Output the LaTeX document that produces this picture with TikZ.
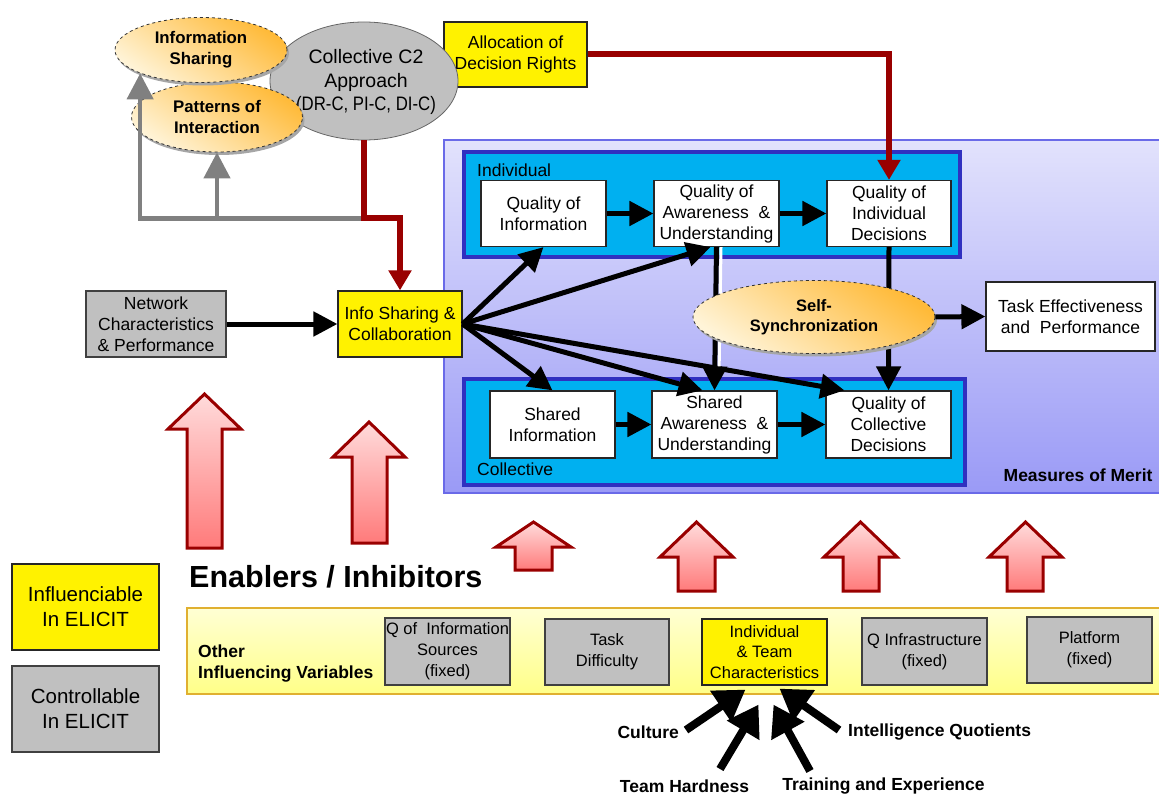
\documentclass[tikz,border=0pt]{standalone}
\usepackage{fontspec}
\setmainfont{Liberation Sans}
\usetikzlibrary{shapes.geometric,arrows.meta,shadows}

\definecolor{darkred}{HTML}{990000}
\definecolor{cyanfill}{HTML}{00B0F0}
\definecolor{navyedge}{HTML}{3030C0}
\definecolor{panelTop}{HTML}{E2E2FC}
\definecolor{panelBot}{HTML}{9A9AF6}
\definecolor{panelEdge}{HTML}{6A6AE8}
\definecolor{boxgray}{HTML}{C0C0C0}
\definecolor{ovalDark}{HTML}{FFBA38}
\definecolor{ovalLight}{HTML}{FFF4D8}
\definecolor{bandTop}{HTML}{FFFFD4}
\definecolor{bandBot}{HTML}{FFFF88}
\definecolor{bandEdge}{HTML}{E0B030}
\definecolor{linegray}{HTML}{808080}

% block arrow pointing up: left, right, shaft left, shaft right, tip y, shoulder y, bottom y
\newcommand\liftarrow[7]{%
  \path[liftstyle] ({(#1+#2)/2},#5) -- (#2,#6) -- (#4,#6) -- (#4,#7) -- (#3,#7) -- (#3,#6) -- (#1,#6) -- cycle;}

\begin{document}
\begin{tikzpicture}[x=1pt,y=-1pt,
  txt/.style={font=\fontsize{17.5}{21}\selectfont, align=center},
  wbox/.style={txt, draw=black!85, line width=1.2pt, fill=white, inner sep=0pt},
  gbox/.style={wbox, fill=boxgray, draw=black!75},
  ybox/.style={wbox, fill=yellow},
  bluebox/.style={draw=navyedge, line width=3.5pt, fill=cyanfill, inner sep=0pt},
  oval/.style={ellipse, draw=black!80, dashed, line width=0.8pt, inner sep=0pt,
    top color=ovalDark, bottom color=ovalLight, shading angle=-35,
    drop shadow={shadow xshift=2pt, shadow yshift=-3pt, fill=black!35, opacity=1},
    font=\bfseries\fontsize{16.8}{21}\selectfont, align=center},
  blk/.style={line width=5pt, -{Triangle[length=24pt,width=24pt]}},
  redarrow/.style={draw=darkred, line width=6pt, line join=miter, -{Triangle[length=20pt,width=22pt]}},
  grayarrow/.style={draw=linegray, line width=4.5pt, line join=miter, -{Triangle[length=26pt,width=26pt]}},
  fatarrow/.style={line width=8pt, -{Triangle[length=30pt,width=36pt]}},
  liftstyle/.style={draw=darkred, line width=3pt, line join=miter, top color=red!14, bottom color=red!52},
  lbl/.style={font=\bfseries\fontsize{17.5}{21}\selectfont},
]
\useasboundingbox (0,0) rectangle (1159,794);

% ---------- Measures of Merit panel ----------
\path[draw=panelEdge, line width=1.2pt, top color=panelTop, bottom color=panelBot] (444,140) rectangle (1162,493);
\node[lbl, anchor=east] (mom) at (1156,475) {Measures of Merit};

\node[bluebox, minimum width=496pt, minimum height=105pt] (indiv) at (712,204.5) {};
\node[bluebox, minimum width=501pt, minimum height=106pt] (coll) at (714.5,432) {};
\node[txt, anchor=west, inner sep=0pt] (indivlbl) at (477,170) {Individual};
\node[txt, anchor=west, inner sep=0pt] (colllbl) at (477,469) {Collective};

\node[wbox, minimum width=125pt, minimum height=66pt] (qoi) at (543.5,213.5) {Quality of\\Information};
\node[wbox, minimum width=125pt, minimum height=66pt] (qau) at (716.5,213.5) {Quality of\\Awareness~~\&\\Understanding};
\node[wbox, minimum width=124pt, minimum height=66pt] (qid) at (889,213.5) {Quality of\\Individual\\Decisions};
\node[wbox, minimum width=125pt, minimum height=67pt] (si) at (552.5,424.5) {Shared\\Information};
\node[wbox, minimum width=125pt, minimum height=67pt] (sau) at (714.5,424.5) {Shared\\Awareness~~\&\\Understanding};
\node[wbox, minimum width=125pt, minimum height=67pt] (qcd) at (888.5,424.5) {Quality of\\Collective\\Decisions};
\node[wbox, minimum width=169pt, minimum height=69pt] (task) at (1070.5,316.5) {Task Effectiveness\\and~~Performance};

% ---------- Left column ----------
\node[gbox, minimum width=140pt, minimum height=66pt] (net) at (156,324) {Network\\Characteristics\\\& Performance};
\node[ybox, minimum width=124pt, minimum height=66pt] (isc) at (400,324) {Info Sharing \&\\Collaboration};
\node[ybox, minimum width=143pt, minimum height=65pt] (alloc) at (515.5,54.5) {Allocation of\\Decision Rights};

% C2 approach and its two components
\node[ellipse, draw=black!60, line width=0.8pt, fill=boxgray, minimum width=188pt, minimum height=118pt, inner sep=0pt] (c2) at (364,81) {};
\node[font=\fontsize{19.5}{23.5}\selectfont, align=center, inner sep=0pt] (c2text) at (366,82) {Collective C2\\Approach\\\scalebox{0.86}[1]{(DR-C, PI-C, DI-C)}};
\node[oval, minimum width=171pt, minimum height=70pt] (pat) at (217,117) {Patterns of\\Interaction};
\node[oval, minimum width=172pt, minimum height=65pt] (infosh) at (201,50) {Information\\Sharing};

% ---------- Influence lines ----------
\coordinate (split) at ([yshift=-78pt]c2.south);
\draw[grayarrow] (split) -| (infosh.201);
\draw[grayarrow] (split -| pat.south) -- (pat.south);
\draw[redarrow] (c2.south) -- (split) -| (isc.north);
\draw[redarrow] (alloc.east) -| (qid.north);

\draw[blk] (net.east) -- (isc.west);
\draw[blk] (qoi.east) -- (qau.west);
\draw[blk] (qau.east) -- (qid.west);
\draw[blk] (si.east) -- (sau.west);
\draw[blk] (sau.east) -- (qcd.west);
\draw[blk] (isc.east) -- (qoi.south);
\draw[blk] (isc.east) -- ([xshift=-6pt]qau.south);
\draw[blk] (isc.east) -- (si.north);
\draw[blk] (isc.east) -- ([xshift=-12pt]sau.north);
\draw[blk] (isc.east) -- ([xshift=-44pt]qcd.north);
\draw[blk] (qid.south) -- (qcd.north);
\draw[white, line width=3pt] ([xshift=4.5pt]qau.south) -- ([xshift=4.5pt,yshift=14pt]sau.north);
\draw[blk] (qau.south) -- (sau.north);

\node[oval, minimum width=242pt, minimum height=73pt, font=\bfseries\fontsize{16.5}{20}\selectfont] (sync) at (814,317) {Self-\\Synchronization};
\draw[blk] (sync.east) -- (task.west);

% ---------- Enabler arrows ----------
\liftarrow{168}{241}{187}{222}{394}{429}{548}
\liftarrow{333}{405}{352}{387}{422}{457}{543}
\liftarrow{496}{571}{515}{552}{522}{547}{570}
\liftarrow{660}{733}{678}{715}{522}{557}{591}
\liftarrow{824}{897}{843}{879}{522}{557}{591}
\liftarrow{989}{1062}{1007}{1043}{522}{557}{591}

\node[anchor=west, inner sep=0pt, font=\bfseries\fontsize{30.5}{34}\selectfont] (enab) at (189,577) {Enablers / Inhibitors};

% ---------- Legend ----------
\node[ybox, minimum width=147pt, minimum height=86pt, font=\fontsize{20.5}{25}\selectfont] (leg1) at (85.5,607) {Influenciable\\In ELICIT};
\node[gbox, minimum width=147pt, minimum height=86pt, font=\fontsize{20.5}{25}\selectfont] (leg2) at (85.5,709) {Controllable\\In ELICIT};

% ---------- Other influencing variables ----------
\path[draw=bandEdge, line width=1.5pt, top color=bandTop, bottom color=bandBot] (187,608) rectangle (1162,694);
\node[lbl, anchor=west, align=left, inner sep=0pt] (other) at (198,664) {Other\\Influencing Variables};
\node[gbox, minimum width=125pt, minimum height=67pt, font=\fontsize{16.5}{21}\selectfont] (qis) at (447.5,651.5) {Q of~~Information\\Sources\\(fixed)};
\node[gbox, minimum width=124pt, minimum height=66pt, font=\fontsize{16.5}{21}\selectfont] (tdiff) at (607,652) {Task\\Difficulty};
\node[ybox, minimum width=125pt, minimum height=66pt, font=\fontsize{16.5}{20.5}\selectfont] (itc) at (764.5,652) {Individual\\\& Team\\Characteristics};
\node[gbox, minimum width=125pt, minimum height=67pt, font=\fontsize{16.5}{21}\selectfont] (qinf) at (924.5,651.5) {Q Infrastructure\\(fixed)};
\node[gbox, minimum width=125pt, minimum height=66pt, font=\fontsize{16.5}{21}\selectfont] (plat) at (1089.5,650) {Platform\\(fixed)};

% ---------- Factors feeding team characteristics ----------
\node[lbl, anchor=east, inner sep=0pt] (cult) at (679,732) {Culture};
\node[lbl, anchor=west, inner sep=0pt] (iq) at (848,732) {Intelligence Quotients};
\node[lbl, inner sep=0pt] (hard) at (684.5,786) {Team Hardness};
\node[lbl, inner sep=0pt] (train) at (883.5,786) {Training and Experience};
\coordinate (cultTail) at (686,730);
\coordinate (iqTail) at (839,730);
\coordinate (hardTail) at (720,769);
\coordinate (trainTail) at (810,771);
\draw[fatarrow] (cultTail) -- ([xshift=-19pt,yshift=-4pt]itc.south);
\draw[fatarrow] (hardTail) -- ([xshift=-6pt,yshift=-19pt]itc.south);
\draw[fatarrow] (trainTail) -- ([xshift=9pt,yshift=-19pt]itc.south);
\draw[fatarrow] (iqTail) -- ([xshift=15pt,yshift=-3pt]itc.south);
\end{tikzpicture}
\end{document}
